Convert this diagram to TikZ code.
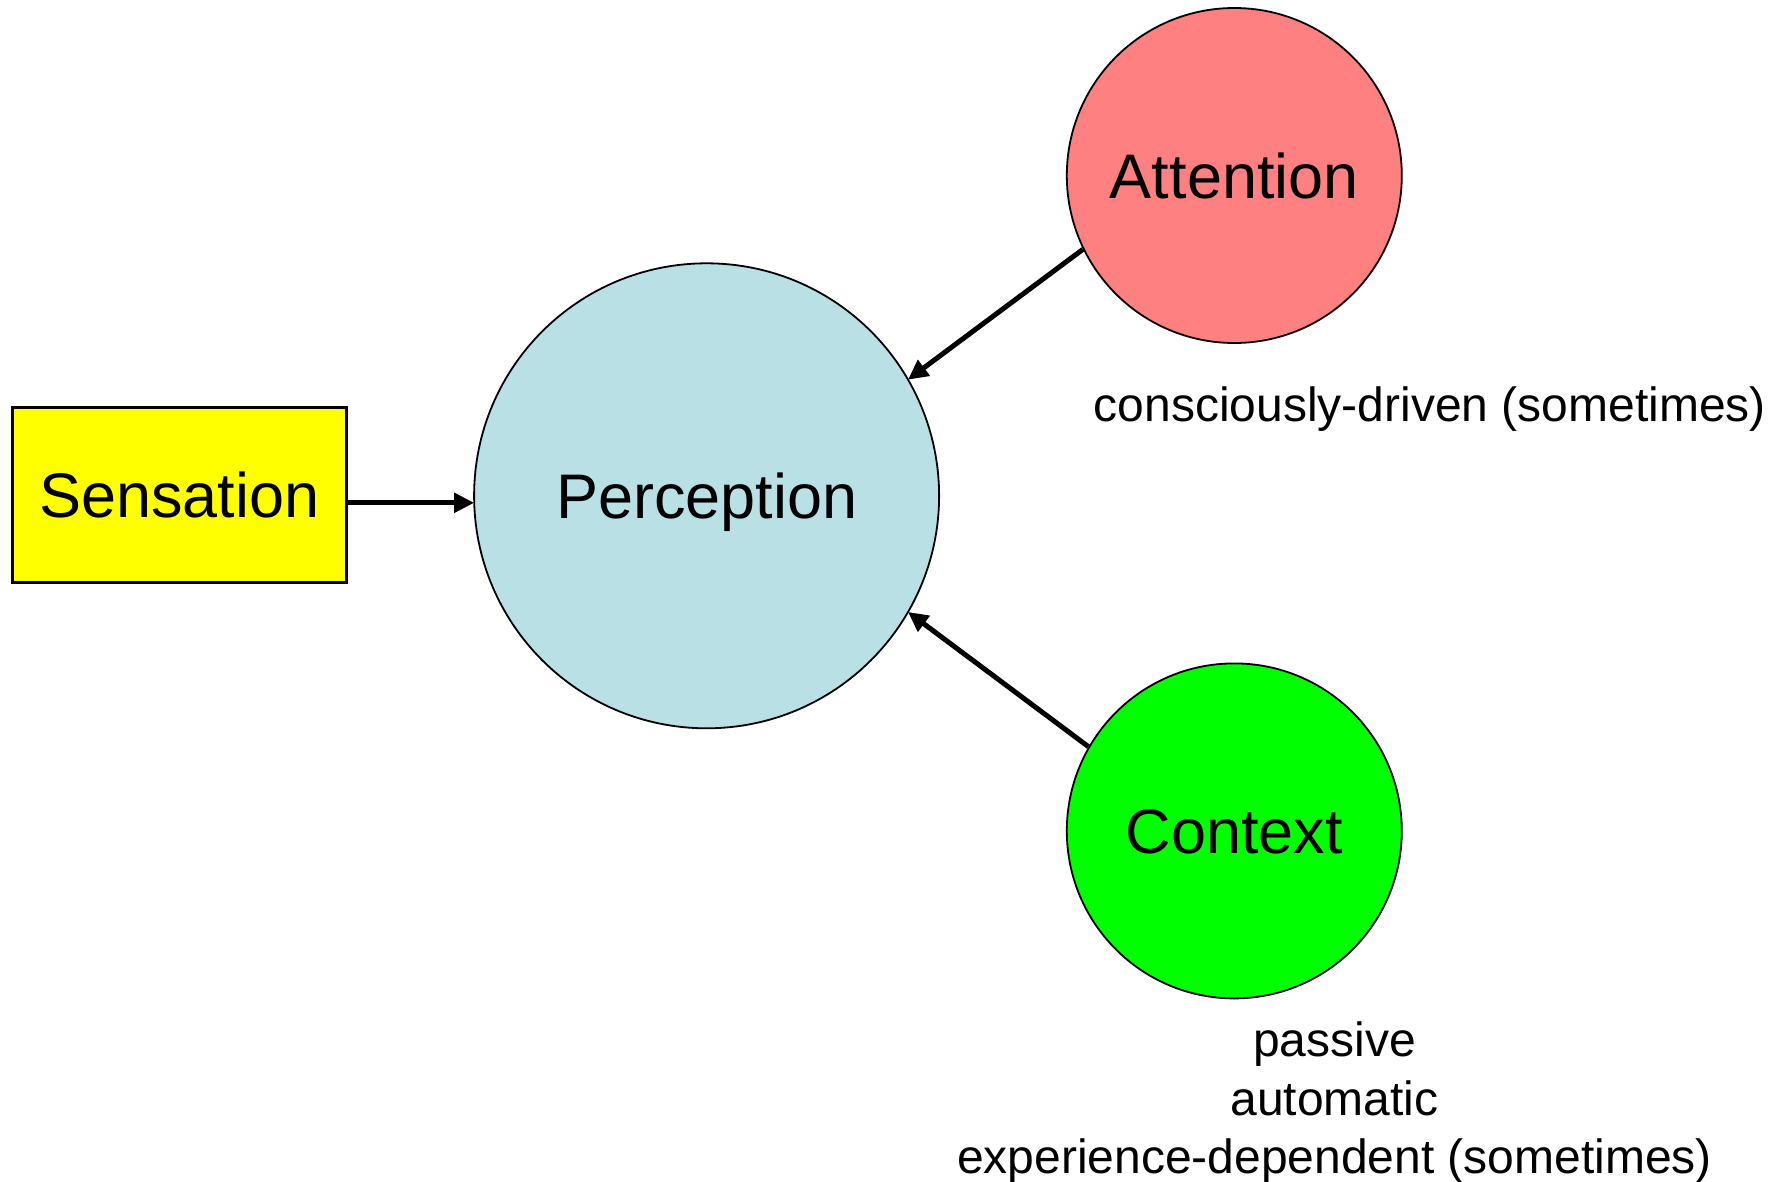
\documentclass[tikz,border=0pt]{standalone}
\usepackage{fontspec}
\setmainfont{Liberation Sans}
\usetikzlibrary{arrows.meta}

\definecolor{percfill}{RGB}{185,224,228}
\definecolor{attfill}{RGB}{255,128,128}
\definecolor{ctxfill}{RGB}{0,255,0}
\definecolor{senfill}{RGB}{255,255,0}

\begin{document}
\begin{tikzpicture}[x=1pt,y=-1pt,
  bigtext/.style={font=\fontsize{63}{75}\selectfont, text height=45pt, text depth=0pt},
  smalltext/.style={font=\fontsize{48}{58.5}\selectfont, inner sep=0pt},
  bubble/.style={circle, draw=black, line width=1.8pt, inner sep=0pt, bigtext},
  flow/.style={line width=5pt, -{Triangle[length=20pt,width=19pt]}, shorten >=-1pt}
]
  \useasboundingbox (0,0) rectangle (1787,1181);

  % the three circles and the input box
  \node[bubble, fill=percfill, minimum size=465pt] (per) at (706.6,495.8) {Perception};
  \node[bubble, fill=attfill, minimum size=335pt] (att) at (1234.3,175.5) {Attention};
  \node[bubble, fill=ctxfill, minimum size=335pt] (ctx) at (1234.3,830.9) {Context};
  \node[draw=black, line width=2.8pt, fill=senfill, inner sep=0pt,
        minimum width=334pt, minimum height=175pt, bigtext] (sen) at (179.3,495.3) {Sensation};

  % influences on perception
  \coordinate (senout) at ([yshift=-7.5pt]sen.east);
  \draw[flow] (senout) -- (senout -| per.west);
  \draw[flow] (att.206) -- (per.30.9);
  \draw[flow] (ctx.150.1) -- (per.-30.8);

  % descriptions
  \node[smalltext, anchor=base] (attnote) at (1430,421) {consciously-driven (sometimes)};
  \node[smalltext, anchor=base, align=center] (ctxnote) at (1334.6,1173.7)
    {passive\\automatic\\experience-dependent (sometimes)};
\end{tikzpicture}
\end{document}
